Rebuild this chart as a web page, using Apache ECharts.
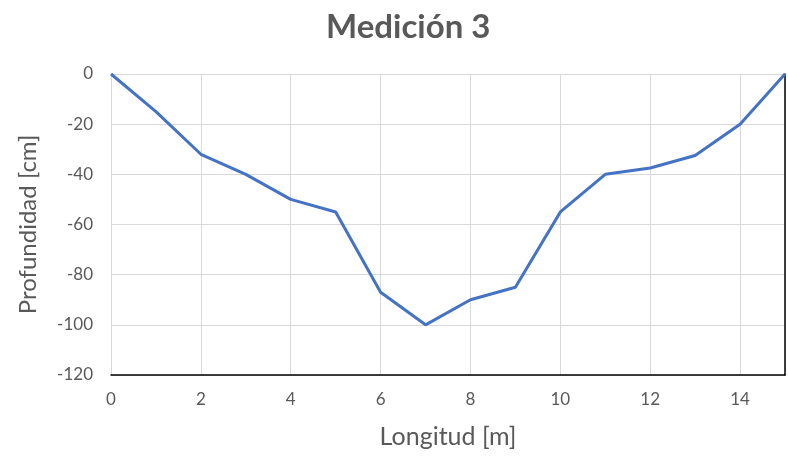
<!DOCTYPE html>
<html>
<head>
<meta charset="utf-8">
<script src="https://cdn.jsdelivr.net/npm/echarts@6/dist/echarts.min.js"></script>
<style>
    html, body { margin: 0; padding: 0; background: #fff; }
    #chart { width: 788px; height: 458px; }
</style>
</head>
<body>
<div id="chart"></div>
<script>
// Longitud [m] y profundidad [cm]
var longitud = [0, 1, 2, 3, 4, 5, 6, 7, 8, 9, 10, 11, 12, 13, 14, 15];
var profundidad = [0, -15, -32, -40, -50, -55, -87, -100, -90, -85, -55, -40, -37.5, -32.5, -20, 0];

var puntos = longitud.map(function (x, i) {
    return [x, profundidad[i]];
});

var chart = echarts.init(document.getElementById('chart'));
var gris = '#595959';
var fuente = 'Lato';

chart.setOption({
    animation: false,
    title: {
        text: 'Medición 3',
        left: 321,
        top: 6,
        textStyle: {color: gris, fontSize: 33, fontWeight: 'bold', fontFamily: fuente}
    },
    grid: {left: 111, top: 74, right: 3, bottom: 83},
    xAxis: {
        type: 'value',
        min: 0,
        max: 15,
        interval: 2,
        name: 'Longitud [m]',
        nameLocation: 'middle',
        nameGap: 49,
        nameTextStyle: {color: gris, fontSize: 25, fontFamily: fuente},
        axisLine: {show: true, onZero: false, lineStyle: {color: '#000', width: 1.5}},
        axisTick: {show: false},
        axisLabel: {color: gris, fontSize: 17, fontFamily: fuente, margin: 16, showMaxLabel: false},
        splitLine: {show: true, lineStyle: {color: '#d9d9d9', width: 1}}
    },
    yAxis: [{
        type: 'value',
        min: -120,
        max: 0,
        interval: 20,
        name: 'Profundidad [cm]',
        nameLocation: 'middle',
        nameGap: 71,
        nameTextStyle: {color: gris, fontSize: 24, fontFamily: fuente},
        axisLine: {show: true, lineStyle: {color: '#d9d9d9'}},
        axisTick: {show: false},
        axisLabel: {color: gris, fontSize: 17, fontFamily: fuente, margin: 18},
        splitLine: {lineStyle: {color: '#d9d9d9', width: 1}}
    }, {
        type: 'value',
        position: 'right',
        min: -120,
        max: 0,
        axisLine: {show: true, lineStyle: {color: '#000', width: 1.5}},
        axisTick: {show: false},
        axisLabel: {show: false},
        splitLine: {show: false}
    }],
    series: [{
        type: 'line',
        data: puntos,
        showSymbol: false,
        lineStyle: {color: '#4472c4', width: 3}
    }]
});
</script>
</body>
</html>
